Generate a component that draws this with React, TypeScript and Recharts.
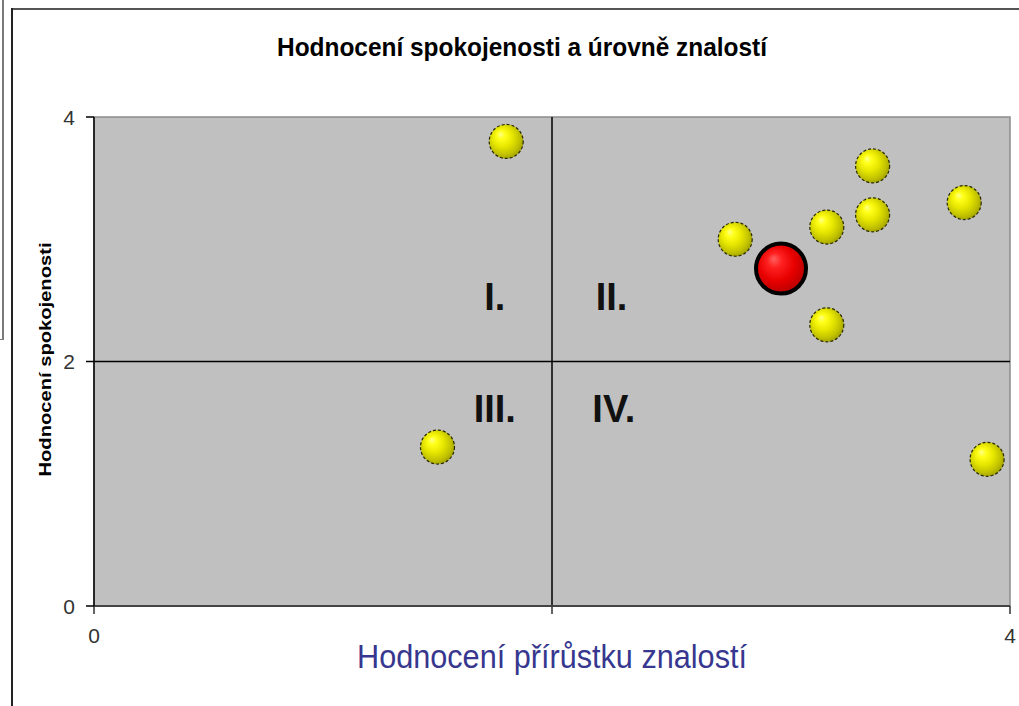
import React from 'react';
import {
  ScatterChart,
  Scatter,
  XAxis,
  YAxis,
  ReferenceLine,
  ReferenceArea,
  ReferenceDot,
} from 'recharts';

// ---- data ----
const knowledgeGain = [1.8, 3.4, 3.8, 3.4, 3.2, 2.8, 3.2, 1.5, 3.9];
const satisfaction = [3.8, 3.6, 3.3, 3.2, 3.1, 3.0, 2.3, 1.3, 1.2];
const highlightX = [3.0];
const highlightY = [2.76];
const axisTicks = [0, 2, 4];
const axisDomain = [0, 4];
const dividerValue = 2;
const quadrantNames = ['I.', 'II.', 'III.', 'IV.'];
const quadrantX = [1.75, 2.26, 1.75, 2.27];
const quadrantY = [2.53, 2.53, 1.61, 1.61];

const chartTitle = 'Hodnocení spokojenosti a úrovně znalostí';
const xTitle = 'Hodnocení přírůstku znalostí';
const yTitle = 'Hodnocení spokojenosti';

const pointsData = knowledgeGain.map((x, i) => ({ x, y: satisfaction[i] }));
const highlightData = highlightX.map((x, i) => ({ x, y: highlightY[i] }));

const FONT = '"Liberation Sans", Arial, sans-serif';

const YellowBall = (props: any) => {
  const { cx, cy } = props;
  if (cx == null || cy == null) return null;
  return (
    <circle
      cx={cx}
      cy={cy}
      r={17}
      fill="url(#ballYellow)"
      stroke="#2a2a00"
      strokeWidth={1.2}
      strokeDasharray="3 2"
    />
  );
};

const RedBall = (props: any) => {
  const { cx, cy } = props;
  if (cx == null || cy == null) return null;
  return <circle cx={cx} cy={cy} r={25} fill="url(#ballRed)" stroke="#000" strokeWidth={4} />;
};

const QuadrantText = (label: string) => (props: any) => {
  const { cx, cy } = props;
  if (cx == null || cy == null) return null;
  return (
    <text
      x={cx}
      y={cy}
      textAnchor="middle"
      dominantBaseline="central"
      fontFamily={FONT}
      fontWeight="bold"
      fontSize={38}
      fill="#111"
    >
      {label}
    </text>
  );
};

const XTick = (props: any) => {
  const { x, y, payload } = props;
  if (payload.value === dividerValue) return null;
  return (
    <text x={x} y={y} dy="0.71em" textAnchor="middle" fontFamily={FONT} fontSize={21} fill="#333">
      {String(payload.value)}
    </text>
  );
};

const YTick = (props: any) => {
  const { x, y, payload } = props;
  return (
    <text x={x} y={y} dy="0.36em" textAnchor="end" fontFamily={FONT} fontSize={21} fill="#333">
      {String(payload.value)}
    </text>
  );
};

const XLabel = (props: any) => {
  const vb = props.viewBox || {};
  const cx = vb.x + vb.width / 2;
  return (
    <text
      x={cx}
      y={vb.y + 62}
      textAnchor="middle"
      fontFamily={FONT}
      fontSize={34}
      fill="#37378f"
      textLength={390}
      lengthAdjust="spacingAndGlyphs"
    >
      {xTitle}
    </text>
  );
};

const YLabel = (props: any) => {
  const vb = props.viewBox || {};
  const cx = 45;
  const cy = vb.y + vb.height / 2 - 2;
  return (
    <text
      x={cx}
      y={cy}
      transform={`rotate(-90, ${cx}, ${cy})`}
      textAnchor="middle"
      dominantBaseline="central"
      fontFamily={FONT}
      fontWeight="bold"
      fontSize={17}
      fill="#000"
      textLength={234}
      lengthAdjust="spacingAndGlyphs"
    >
      {yTitle}
    </text>
  );
};

export default function App() {
  return (
    <div
      style={{
        position: 'absolute',
        left: 0,
        top: 0,
        width: 1019,
        height: 706,
        background: '#fff',
        overflow: 'hidden',
      }}
    >
      {/* page decorations */}
      <div style={{ position: 'absolute', left: 2, top: 0, width: 2, height: 340, background: '#7a7a7a' }} />
      <div style={{ position: 'absolute', left: 0, top: 339, width: 4, height: 1, background: '#7a7a7a' }} />
      <div style={{ position: 'absolute', left: 12, top: 8, width: 1007, height: 2, background: '#555' }} />
      <div style={{ position: 'absolute', left: 11, top: 8, width: 2, height: 698, background: '#222' }} />

      <svg width={1019} height={80} style={{ position: 'absolute', left: 0, top: 0 }}>
        <text
          x={522}
          y={56}
          textAnchor="middle"
          fontFamily={FONT}
          fontWeight="bold"
          fontSize={25}
          fill="#000"
          textLength={490}
          lengthAdjust="spacingAndGlyphs"
        >
          {chartTitle}
        </text>
      </svg>

      <div style={{ position: 'absolute', left: 0, top: 0 }}>
        <ScatterChart width={1019} height={706} margin={{ top: 117, right: 9, bottom: 60, left: 0 }}>
          <defs>
            <radialGradient id="ballYellow" cx="0.45" cy="0.45" r="0.6" fx="0.33" fy="0.28">
              <stop offset="0" stopColor="#ffff8a" />
              <stop offset="0.2" stopColor="#ffff1a" />
              <stop offset="0.5" stopColor="#e6e600" />
              <stop offset="0.8" stopColor="#c0c000" />
              <stop offset="1" stopColor="#9a9a00" />
            </radialGradient>
            <radialGradient id="ballRed" cx="0.45" cy="0.45" r="0.6" fx="0.35" fy="0.3">
              <stop offset="0" stopColor="#ff6060" />
              <stop offset="0.25" stopColor="#ff2020" />
              <stop offset="0.6" stopColor="#e80000" />
              <stop offset="1" stopColor="#b00000" />
            </radialGradient>
          </defs>
          <ReferenceArea
            x1={axisDomain[0]}
            x2={axisDomain[1]}
            y1={axisDomain[0]}
            y2={axisDomain[1]}
            fill="#c0c0c0"
            fillOpacity={1}
            stroke="#8c8c8c"
            strokeWidth={1.5}
            ifOverflow="extendDomain"
          />
          <XAxis
            type="number"
            dataKey="x"
            domain={axisDomain}
            ticks={axisTicks}
            allowDataOverflow
            height={40}
            tickSize={8}
            tickMargin={14}
            axisLine={{ stroke: '#444', strokeWidth: 2 }}
            tickLine={{ stroke: '#333', strokeWidth: 1.5 }}
            tick={<XTick />}
            label={<XLabel />}
          />
          <YAxis
            type="number"
            dataKey="y"
            domain={axisDomain}
            ticks={axisTicks}
            allowDataOverflow
            width={94}
            tickSize={8}
            tickMargin={11}
            axisLine={{ stroke: '#000', strokeWidth: 1.5 }}
            tickLine={{ stroke: '#000', strokeWidth: 1.5 }}
            tick={<YTick />}
            label={<YLabel />}
          />
          <ReferenceLine x={dividerValue} stroke="#000" strokeWidth={1.5} />
          <ReferenceLine y={dividerValue} stroke="#000" strokeWidth={1.5} />
          {quadrantNames.map((name, i) => (
            <ReferenceDot key={name} x={quadrantX[i]} y={quadrantY[i]} r={0} shape={QuadrantText(name)} />
          ))}
          <Scatter data={pointsData} shape={<YellowBall />} isAnimationActive={false} />
          <Scatter data={highlightData} shape={<RedBall />} isAnimationActive={false} />
        </ScatterChart>
      </div>
    </div>
  );
}
